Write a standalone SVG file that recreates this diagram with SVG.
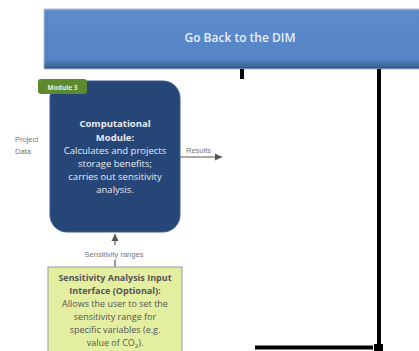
<svg xmlns="http://www.w3.org/2000/svg" width="419" height="351" viewBox="0 0 419 351">
<defs>
<linearGradient id="barg" x1="0" y1="0" x2="0" y2="1">
<stop offset="0" stop-color="#6b9bd8"/>
<stop offset="0.08" stop-color="#5b8bcb"/>
<stop offset="0.85" stop-color="#5585c6"/>
<stop offset="1" stop-color="#2e4f80"/>
</linearGradient>
<marker id="arr" markerWidth="8" markerHeight="8" refX="7" refY="4" orient="auto" markerUnits="userSpaceOnUse">
<path d="M0,0.5 L7,4 L0,7.5 Z" fill="#555"/>
</marker>
<style>
.lbl{font-family:"Liberation Sans",Arial,sans-serif;fill:#777;}
.mod{font-family:"Open Sans","Liberation Sans",sans-serif;fill:#e6ecf4;font-size:9.5px;text-anchor:middle;}
.yel{font-family:"Open Sans","Liberation Sans",sans-serif;fill:#555;font-size:9px;text-anchor:middle;}
.b{font-weight:bold;}
.conn{stroke:#555;stroke-width:1.2;fill:none;}
.blk{stroke:#000;stroke-width:4;fill:none;}
</style>
</defs>
<rect width="419" height="351" fill="#fff"/>
<g id="dim-bar">
<rect x="44" y="9" width="380" height="60" fill="url(#barg)" stroke="#a9bcd6" stroke-width="1"/>
<rect x="47" y="12" width="380" height="54" fill="none" stroke="#4a76b0" stroke-width="1" opacity="0.6"/>
<text x="240" y="42" font-family="Open Sans, Liberation Sans, sans-serif" font-size="12" font-weight="600" fill="#e8eef8" text-anchor="middle">Go Back to the DIM</text>
</g>
<g id="connectors">
<line class="blk" x1="242" y1="69" x2="242" y2="79"/>
<line class="blk" x1="379" y1="69" x2="379" y2="344"/>
<line class="blk" x1="255" y1="347.5" x2="373" y2="347.5" stroke-width="5"/>
<rect x="374" y="344" width="9" height="8" fill="#000"/>
<line class="conn" x1="180" y1="157" x2="222" y2="157" marker-end="url(#arr)"/>
<line class="conn" x1="115" y1="267" x2="115" y2="260"/>
<line class="conn" x1="115" y1="245" x2="115" y2="234" marker-end="url(#arr)"/>
<text class="lbl" x="186" y="153" font-size="7.5">Results</text>
<text class="lbl" x="114" y="257" font-size="7.5" text-anchor="middle">Sensitivity ranges</text>
</g>
<g id="project-data">
<text class="lbl" x="15" y="142" font-size="7.5">Project</text>
<text class="lbl" x="15" y="154" font-size="7.5">Data</text>
</g>
<g id="module3">
<rect x="50" y="81" width="130" height="151" rx="17" fill="#264677" stroke="#3a5d92" stroke-width="1"/>
<rect x="38" y="79" width="49" height="15" rx="3" fill="#5d8a2e"/>
<text x="62.5" y="89.5" font-family="Open Sans, Liberation Sans, sans-serif" font-size="6.5" font-weight="bold" fill="#e8f0dc" text-anchor="middle">Module 3</text>
<text class="mod b" x="115" y="127">Computational</text>
<text class="mod b" x="115" y="141">Module:</text>
<text class="mod" x="115" y="154">Calculates and projects</text>
<text class="mod" x="115" y="167">storage benefits;</text>
<text class="mod" x="115" y="180">carries out sensitivity</text>
<text class="mod" x="115" y="193">analysis.</text>
</g>
<g id="sensitivity-input">
<rect x="48" y="267" width="134" height="90" fill="#e3eea0" stroke="#9a9a9a" stroke-width="1"/>
<text class="yel b" x="115" y="281" fill="#333">Sensitivity Analysis Input</text>
<text class="yel b" x="115" y="294" fill="#333">Interface (Optional):</text>
<text class="yel" x="115" y="307">Allows the user to set the</text>
<text class="yel" x="115" y="320">sensitivity range for</text>
<text class="yel" x="115" y="333">specific variables (e.g.</text>
<text class="yel" x="115" y="346">value of CO<tspan font-size="6" dy="2">2</tspan><tspan dy="-2">).</tspan></text>
</g>
</svg>
